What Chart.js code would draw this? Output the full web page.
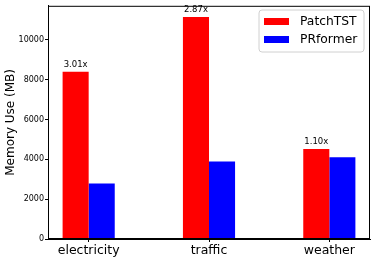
<!DOCTYPE html>
<html>
<head>
<meta charset="utf-8">
<script src="https://cdn.jsdelivr.net/npm/chart.js@4"></script>
<style>
  html, body { margin: 0; padding: 0; background: #fff; }
  #wrap { width: 374px; height: 260px; }
</style>
</head>
<body>
<div id="wrap"><canvas id="chart" width="374" height="260"></canvas></div>
<script>
const categories = ["electricity", "traffic", "weather"];
const patchtst = [8400, 11150, 4520];
const prformer = [2790, 3885, 4110];
const ratioLabels = ["3.01x", "2.87x", "1.10x"];
const yTicks = [0, 2000, 4000, 6000, 8000, 10000];

const FONT = "'DejaVu Sans', sans-serif";

// frame, ratio labels over the red bars, legend box in the upper right
const extras = {
  id: "extras",
  afterDraw(chart) {
    const ctx = chart.ctx;
    const a = chart.chartArea;
    ctx.save();
    ctx.strokeStyle = "#000";
    ctx.lineWidth = 1;
    ctx.strokeRect(a.left + 0.5, a.top + 0.5, a.right - a.left - 1, a.bottom - a.top - 1);

    const meta = chart.getDatasetMeta(0);
    ctx.fillStyle = "#000";
    ctx.font = "8.5px " + FONT;
    ctx.textAlign = "center";
    ctx.textBaseline = "bottom";
    meta.data.forEach((bar, i) => {
      ctx.fillText(ratioLabels[i], bar.x, bar.y - 3);
    });

    // legend
    const lx = 259, ly = 10, lw = 105, lh = 42, r = 3;
    ctx.beginPath();
    ctx.moveTo(lx + r, ly);
    ctx.arcTo(lx + lw, ly, lx + lw, ly + lh, r);
    ctx.arcTo(lx + lw, ly + lh, lx, ly + lh, r);
    ctx.arcTo(lx, ly + lh, lx, ly, r);
    ctx.arcTo(lx, ly, lx + lw, ly, r);
    ctx.closePath();
    ctx.fillStyle = "rgba(255,255,255,0.8)";
    ctx.fill();
    ctx.strokeStyle = "#d0d0d0";
    ctx.stroke();

    ctx.font = "12.3px " + FONT;
    ctx.textAlign = "left";
    ctx.textBaseline = "middle";
    chart.data.datasets.forEach((ds, i) => {
      const cy = 21.5 + i * 18;
      ctx.fillStyle = ds.backgroundColor;
      ctx.fillRect(264, cy - 3.5, 25, 7);
      ctx.fillStyle = "#000";
      ctx.fillText(ds.label, 300, cy + 0.5);
    });
    ctx.restore();
  }
};

new Chart(document.getElementById("chart"), {
  type: "bar",
  data: {
    datasets: [
      {
        label: "PatchTST",
        data: patchtst.map((v, i) => ({ x: i, y: v })),
        backgroundColor: "#ff0000",
        borderWidth: 0
      },
      {
        label: "PRformer",
        data: prformer.map((v, i) => ({ x: i, y: v })),
        backgroundColor: "#0000ff",
        borderWidth: 0
      }
    ]
  },
  options: {
    responsive: false,
    animation: false,
    events: [],
    layout: { padding: { top: 5, right: 4, left: 0, bottom: 0 } },
    datasets: { bar: { barPercentage: 1, categoryPercentage: 0.4333 } },
    plugins: { legend: { display: false }, tooltip: { enabled: false } },
    scales: {
      x: {
        type: "linear",
        offset: false,
        min: -0.338,
        max: 2.338,
        afterBuildTicks: s => { s.ticks = categories.map((c, i) => ({ value: i })); },
        afterFit: s => { s.height = 21; },
        ticks: {
          callback: v => categories[v],
          color: "#000",
          font: { family: FONT, size: 12.5 },
          padding: 1,
          maxRotation: 0,
          autoSkip: false
        },
        grid: { display: true, drawOnChartArea: false, tickLength: 3, color: "#000", offset: false },
        border: { display: true, color: "#000" }
      },
      y: {
        min: 0,
        max: 11707,
        afterBuildTicks: s => { s.ticks = yTicks.map(v => ({ value: v })); },
        afterFit: s => { s.width = 48; },
        ticks: {
          callback: v => String(v),
          color: "#000",
          font: { family: FONT, size: 8 },
          padding: 1
        },
        grid: { display: true, drawOnChartArea: false, tickLength: 3, color: "#000" },
        border: { display: true, color: "#000" },
        title: {
          display: true,
          text: "Memory Use (MB)",
          color: "#000",
          font: { family: FONT, size: 12 },
          padding: { top: 4, bottom: 4 }
        }
      }
    }
  },
  plugins: [extras]
});
</script>
</body>
</html>
